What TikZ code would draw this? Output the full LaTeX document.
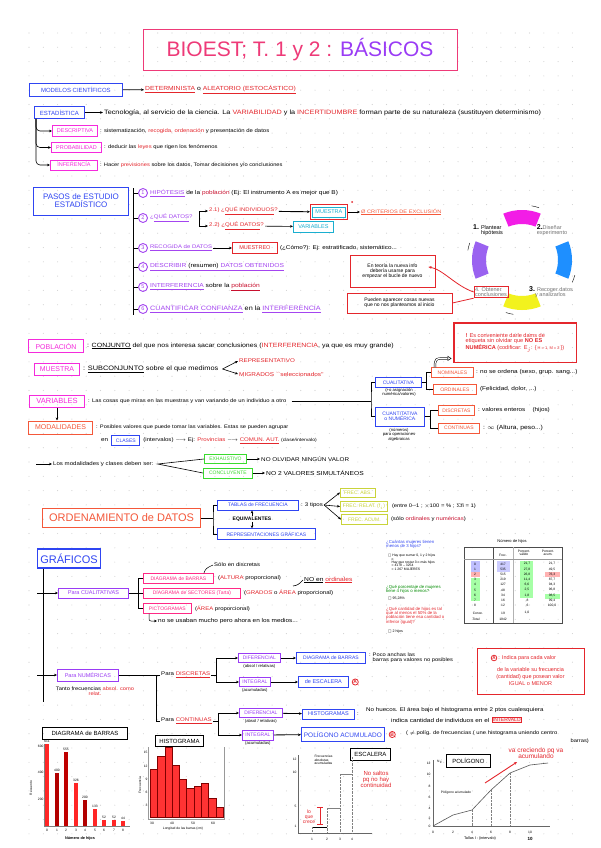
\documentclass[tikz,border=0pt]{standalone}
\usepackage{fontspec}
\setmainfont{Liberation Sans}
\newfontfamily\widefont{Liberation Sans}[FakeStretch=1.15]
\newfontfamily\symfont{DejaVu Sans}
\usetikzlibrary{positioning, calc, arrows.meta}

\definecolor{ctitle}{HTML}{EE3A78}
\definecolor{cpurple}{HTML}{9A3BF5}
\definecolor{cblue}{HTML}{2F45F2}
\definecolor{cmag}{HTML}{F52BDC}
\definecolor{cred}{HTML}{E4262C}
\definecolor{cdred}{HTML}{C8102E}
\definecolor{corange}{HTML}{F4583A}
\definecolor{ccyan}{HTML}{1AAFD0}
\definecolor{cgreen}{HTML}{3ADB2E}
\definecolor{cyel}{HTML}{C9D33A}
\definecolor{cpink}{HTML}{FF2A86}
\definecolor{cviolet}{HTML}{A445F0}
\definecolor{dotgray}{HTML}{D2D2D2}
\definecolor{cycmag}{HTML}{F21DE6}
\definecolor{cycblue}{HTML}{1E8FFF}
\definecolor{cycyel}{HTML}{F2F21E}
\definecolor{cycpur}{HTML}{9A62F0}

\newcommand{\fsz}[1]{\fontsize{#1}{#1}\selectfont}
\newcommand{\wf}[1]{\widefont\fontsize{#1}{#1}\selectfont}
\newcommand{\rd}[1]{\textcolor{cred}{#1}}
\newcommand{\ul}[1]{\underline{#1}}
\newcommand{\chk}{{\symfont □}}

\begin{document}
\begin{tikzpicture}[x=1pt, y=-1pt, >={Stealth[length=3pt, width=2.6pt]},
    box/.style={draw, line width=0.8pt, inner sep=1pt, anchor=west, font=\fsz{5.5}},
    bluebox/.style={box, draw=cblue, text=cblue},
    magbox/.style={box, draw=cmag, text=cmag, line width=1pt},
    orbox/.style={box, draw=corange, text=corange},
    cyanbox/.style={box, draw=ccyan, text=ccyan},
    greenbox/.style={box, draw=cgreen, text=cgreen},
    yelbox/.style={box, draw=cyel, text=cyel},
    pinkbox/.style={box, draw=cpink, text=cpink},
    purbox/.style={box, draw=cpurple, text=cpurple},
    blackbox/.style={box, draw=black, line width=0.9pt, font=\fsz{6}},
    txt/.style={anchor=west, inner sep=1pt, font=\wf{5}},
    small/.style={inner sep=0.5pt, font=\fsz{4.2}},
    tiny/.style={inner sep=0.3pt, font=\fsz{3.3}},
    rednote/.style={draw=cred, line width=0.9pt, text=black, align=center, font=\fsz{5}, inner sep=2pt},
    stepnum/.style={circle, draw=cviolet, text=cviolet, line width=0.9pt, inner sep=0pt, minimum size=9pt, font=\fsz{5.5}},
    markred/.style={circle, draw=cred, text=cred, line width=0.8pt, inner sep=0.4pt, font=\fsz{5}\bfseries},
    link/.style={->, line width=0.6pt},
  ]
\useasboundingbox (0,0) rectangle (600,848);
\fill[white] (0,0) rectangle (600,848);
% dotted paper
\foreach \i in {0,...,38} {
  \foreach \j in {0,...,56} {
    \fill[dotgray] (29+\i*14.3, 33+\j*14.3) circle (0.55pt);
  }
}

% title
\node[draw=ctitle, line width=0.9pt, minimum width=314, minimum height=41, inner sep=0pt, font=\fsz{21}] (title) at (300,50)
  {\textcolor{ctitle}{BIOEST; T. 1 y 2 :} \textcolor{cpurple}{BÁSICOS}};

% modelos / estadistica
\node[bluebox, minimum width=93, minimum height=13, font=\fsz{6}] (modelos) at (29,89.5) {MODELOS CIENTÍFICOS};
\node[txt, text=cred, font=\wf{5.9}] (modtipos) at (144,90) {\ul{DETERMINISTA} \textcolor{black}{o} \ul{ALEATORIO (ESTOCÁSTICO)}};
\draw[link, line width=0.8pt] (modelos) -- (modtipos);

\node[bluebox, minimum width=50, minimum height=12, font=\fsz{6}] (estad) at (34,112.5) {ESTADÍSTICA};
\node[txt, font=\wf{6.3}] (estadtxt) at (103,112.5) {Tecnología, al servicio de la ciencia. La \rd{VARIABILIDAD} y la \rd{INCERTIDUMBRE} forman parte de su naturaleza (sustituyen determinismo)};
\draw[link, line width=0.8pt] (estad) -- (estadtxt);

\node[magbox, minimum width=45, minimum height=10] (descr) at (52,131) {DESCRIPTIVA};
\node[txt, right=1pt of descr, font=\wf{5.2}] (descrtxt) {: sistematización, \rd{recogida, ordenación} y presentación de datos};
\node[magbox, minimum width=50, minimum height=9.5] (prob) at (51,147.5) {PROBABILIDAD};
\node[txt, right=1pt of prob, font=\wf{5.1}] (probtxt) {: deducir las \rd{leyes} que rigen los fenómenos};
\node[magbox, minimum width=47, minimum height=10] (infer) at (50,165) {INFERENCIA};
\node[txt, right=1pt of infer, font=\wf{5}] (infertxt) {: Hacer \rd{previsiones} sobre los datos, Tomar decisiones y/o conclusiones};
\foreach \b in {descr, prob, infer}
  \draw[link, rounded corners=4pt] ([xshift=2pt]estad.south west) |- (\b.west);

% pasos
\node[bluebox, align=center, minimum width=95, minimum height=28, font=\fsz{8}, line width=1pt] (pasos) at (33,201) {PASOS de ESTUDIO\\ESTADÍSTICO};
\coordinate (sptop) at (133,188);
\coordinate (spbot) at (133,315);
\draw[line width=0.9pt] (sptop) -- (spbot);
\foreach \n/\y in {1/193, 2/218, 3/248, 4/267, 5/287, 6/309} {
  \node[stepnum] (s\n) at (143,\y) {\n};
  \draw[line width=0.8pt] (sptop |- s\n.west) -- (s\n.west);
}
\node[txt, right=1pt of s1, font=\wf{5.6}] (h1) {\textcolor{cviolet}{\ul{HIPÓTESIS}} de la \textcolor{cdred}{población} (Ej: El instrumento A es mejor que B)};
\node[txt, right=1pt of s2, text=cviolet, font=\wf{5.3}] (h2) {¿\ul{QUÉ DATOS}?};
\coordinate (qbr) at ($(h2.east)+(5,0)$);
\node[txt, text=cred, font=\wf{5.2}] (q21) at (208,211) {2.1) ¿\ul{QUÉ INDIVIDUOS}?};
\node[txt, text=cred, font=\wf{5.3}] (q22) at (208,226) {2.2) ¿\ul{QUÉ DATOS}?};
\draw[link] (qbr) |- (q21.west);
\draw[link] (qbr) |- (q22.west);
\node[cyanbox, minimum width=33, minimum height=10] (muestra1) at (312,212) {MUESTRA};
\draw[cred, line width=0.9pt] ($(muestra1.south west)+(-2,2)$) rectangle ($(muestra1.north east)+(2,-2)$);
\draw[link, line width=0.9pt, shorten >=2pt] (q21) -- (muestra1);
\node[txt, text=corange, font=\wf{4.9}] (excl) at (360,212) {\ul{Ø CRITERIOS DE EXCLUSIÓN}};
\draw[link] ($(muestra1.east)+(2,0)$) -- (excl);
\fill[cred] (352,202) circle (1pt);
\node[cyanbox, minimum width=40, minimum height=11] (vars1) at (293,226.5) {VARIABLES};
\draw[link] (q22) -- (vars1);
\node[txt, right=1pt of s3, text=cviolet, font=\wf{5.2}] (h3) {\ul{RECOGIDA de DATOS}};
\node[box, draw=cred, text=cred, minimum width=45, minimum height=11] (muestreo) at (232,248) {MUESTREO};
\draw[link, line width=0.8pt] (h3) -- (muestreo);
\node[txt, right=1pt of muestreo, font=\wf{5.5}] (como) {(¿Cómo?): Ej: estratificado, sistemático...};
\node[txt, right=1pt of s4, text=cviolet, font=\wf{5.8}] (h4) {\ul{DESCRIBIR \textcolor{black}{(resumen)} DATOS OBTENIDOS}};
\node[txt, right=1pt of s5, text=cviolet, font=\wf{5.8}] (h5) {\ul{INTERFERENCIA} \textcolor{black}{sobre la} \textcolor{cdred}{\ul{población}}};
\node[txt, right=1pt of s6, text=cviolet, font=\wf{6.3}] (h6) {\ul{CUANTIFICAR CONFIANZA} \textcolor{black}{en la} \ul{INTERFERENCIA}};

% ciclo
\coordinate (cyc) at (522,260);
\begin{scope}[shift={(cyc)}, x=1pt, y=1pt]
  \fill[cycmag] (68:50) arc[start angle=68, end angle=112, radius=50] -- (112:36) arc[start angle=112, end angle=68, radius=36] -- cycle;
  \fill[cycblue] (-22:50) arc[start angle=-22, end angle=22, radius=50] -- (22:36) arc[start angle=22, end angle=-22, radius=36] -- cycle;
  \fill[cycyel] (248:50) arc[start angle=248, end angle=292, radius=50] -- (292:36) arc[start angle=292, end angle=248, radius=36] -- cycle;
  \fill[cycpur] (158:50) arc[start angle=158, end angle=202, radius=50] -- (202:36) arc[start angle=202, end angle=158, radius=36] -- cycle;
  \foreach \a in {76, -20, 257, 166}
    \draw[line width=0.4pt] (\a+4:55) arc[start angle=\a+4, end angle=\a-4, radius=55];
\end{scope}
\node[align=left, inner sep=0pt, font=\fsz{5.5}] (c1) at (488,230) {{\fsz{7}\bfseries 1.} Plantear\\\hspace*{8pt}hipótesis};
\node[align=left, inner sep=0pt, font=\fsz{5.5}, text=black!55] (c2) at (552,230) {{\fsz{7}\bfseries\color{black}2.}Diseñar\\experimento};
\node[align=left, inner sep=0pt, font=\fsz{5.5}, text=black!55] (c3) at (551,292) {{\fsz{7}\bfseries\color{black}3.} Recoger datos\\\hspace*{6pt}y analizarlos};
\node[draw=cred, line width=0.8pt, align=left, inner sep=1pt, font=\fsz{5.5}, text=black!55] (concl) at (491,292) {4. Obtener\\conclusiones};
\node[rednote, minimum width=85, minimum height=32] (teoria) at (392.5,271) {En teoría la nueva info\\debería usarse para\\empezar el bucle de nuevo};
\node[rednote, minimum width=105, minimum height=20] (nuevas) at (399.5,303) {Pueden aparecer cosas nuevas\\que no nos planteamos al inicio};
\draw[cred, ->, line width=0.8pt] (concl.west) .. controls +(-18,-6) and +(14,2) .. ($(teoria.east)+(-7,-4)$);
\draw[cred, line width=0.8pt] (nuevas.east) -- (concl.south west);

% poblacion / muestra
\node[magbox, minimum width=55, minimum height=13, font=\fsz{7}] (pobl) at (28,346) {POBLACIÓN};
\node[txt, right=2pt of pobl, font=\wf{6.1}] (pobltxt) {: \ul{CONJUNTO} del que nos interesa sacar conclusiones (\rd{INTERFERENCIA}, ya que es muy grande)};
\node[magbox, minimum width=45, minimum height=12, font=\fsz{7}] (muestra2) at (34,369) {MUESTRA};
\node[txt, right=2pt of muestra2, font=\wf{6.4}] (muestratxt) {: \ul{SUBCONJUNTO} sobre el que medimos};
\coordinate (mfork) at ($(muestratxt.east)+(3,0)$);
\node[txt, text=cred, font=\wf{5.4}] (repres1) at (238,361) {REPRESENTATIVO};
\node[txt, text=cred, font=\wf{5.6}] (sesgo) at (238,374) {MIGRADOS ``seleccionados''};
\draw[link] (mfork) -- (repres1.west);
\draw[link] (mfork) -- (sesgo.west);

% tipos de variables
\node[rednote, text=cred, align=left, minimum width=122, minimum height=39, font=\fsz{5.6}] (etiqueta) at (515,342.5)
  {\textbf{!} Es conveniente darle dams de\\etiqueta sin olvidar que \textbf{NO ES}\\\textbf{NUMÉRICA} (codificar: E$_j$: \{\,{\fsz{4}H = 1, M = 2}\,\})};
\draw[cred, line width=0.9pt] (etiqueta.north west) rectangle (etiqueta.south east);
\node[bluebox, minimum width=46, minimum height=9.5, font=\fsz{5}] (cuali) at (375,382.5) {CUALITATIVA};
\node[small, anchor=north, align=center] (cualinota) at (399,388) {(+o asignación\\numérica/valores)};
\node[orbox, minimum width=42, minimum height=9.5, font=\fsz{5}] (nomin) at (431,372.5) {NOMINALES};
\node[txt, right=1pt of nomin, font=\wf{5.6}] (nomintxt) {: no se ordena (sexo, grup. sang...)};
\node[orbox, minimum width=43, minimum height=9.5, font=\fsz{5}] (ordin) at (433,389.5) {ORDINALES};
\node[txt, right=2pt of ordin, font=\wf{5.6}] (ordintxt) {(Felicidad, dolor, ...)};
\coordinate (cbr) at ($(cuali.east)+(5,0)$);
\draw[line width=0.7pt] (cuali.east) -- (cbr);
\draw[line width=0.7pt] (nomin.west) -| (cbr) |- (ordin.west);
\draw[double, double distance=1.2pt, line width=0.5pt, -{Triangle[open, length=4pt, width=5pt]}]
  ($(nomin.north west)+(4,0)$) .. controls +(0,-9) .. ($(etiqueta.south west)+(-2,-4)$);
\node[bluebox, align=center, minimum width=49, minimum height=19, font=\fsz{5}] (cuanti) at (375,416.5) {CUANTITATIVA\\o NUMÉRICA};
\node[small, anchor=north, align=center] (cuantinota) at (399,428) {(números)\\para operaciones\\algebraicas};
\node[orbox, minimum width=36, minimum height=9.5, font=\fsz{5}] (discr) at (438,410.5) {DISCRETAS};
\node[txt, right=2pt of discr, font=\wf{5.5}] (discrtxt) {: valores enteros \quad (hijos)};
\node[orbox, minimum width=41, minimum height=10, font=\fsz{5}] (conti) at (438,428) {CONTINUAS};
\node[txt, right=2pt of conti, font=\wf{5.9}] (contitxt) {: $\infty$ (Altura, peso...)};
\coordinate (nbr) at ($(cuanti.east)+(6,0)$);
\draw[line width=0.7pt] (cuanti.east) -- (nbr);
\draw[line width=0.7pt] (discr.west) -| (nbr) |- (conti.west);

\node[magbox, minimum width=55, minimum height=12, font=\fsz{7.5}] (variab) at (29,401) {VARIABLES};
\node[txt, right=2pt of variab, font=\wf{5.1}] (variabtxt) {: Las cosas que miras en las muestras y van variando de un individuo a otro};
\coordinate (vbr) at (371,401);
\draw[line width=0.9pt] ($(variabtxt.east)+(4,0)$) -- (vbr);
\draw[line width=0.7pt] (cuali.west) -| (vbr) |- (cuanti.west);

% modalidades
\node[orbox, minimum width=64, minimum height=13, font=\fsz{7}, line width=1pt] (modal) at (28,427.5) {MODALIDADES};
\draw[link, line width=0.8pt] (variab.south) -- (variab.south |- modal.north);
\node[txt, right=2pt of modal, font=\wf{5}] (modaltxt) {: Posibles valores que puede tomar las variables. Estas se pueden agrupar};
\node[txt, font=\wf{5.5}] (entxt) at (100,440.5) {en};
\node[bluebox, right=2pt of entxt, minimum width=28, minimum height=9.5, font=\fsz{5}] (clases) {CLASES};
\node[txt, right=2pt of clases, font=\wf{5.3}] (clasestxt) {(intervalos) $\longrightarrow$ Ej: \rd{Provincias} $\longrightarrow$ \rd{\ul{COMUN. AUT.}} {\wf{4.4}(clase/intervalo)}};
\coordinate (debenst) at (36,464);
\node[txt, font=\wf{5.3}] (deben) at (52,464) {Los modalidades y clases deben ser:};
\draw[link, line width=0.8pt] (debenst) -- (deben);
\coordinate (dfork) at ($(deben.east)+(3,0)$);
\node[greenbox, minimum width=42, minimum height=9, font=\fsz{5}] (exhaus) at (204,459) {EXHAUSTIVO};
\node[greenbox, minimum width=49, minimum height=10, font=\fsz{5}] (conclu) at (203,473) {CONCLUYENTE};
\draw[line width=0.6pt] (exhaus.west) -- (dfork) -- (conclu.west);
\node[txt, font=\wf{5.5}] (exhaustxt) at (260,459) {NO OLVIDAR NINGÚN VALOR};
\draw[link] (exhaus) -- (exhaustxt);
\node[txt, font=\wf{5.8}] (conclutxt) at (265,473) {NO 2 VALORES SIMULTÁNEOS};
\draw[link] (conclu) -- (conclutxt);

% ordenamiento
\node[orbox, minimum width=158, minimum height=19, font=\fsz{11}, line width=1pt] (orden) at (42,518) {ORDENAMIENTO de DATOS};
\coordinate (obr) at ($(orden.east)+(12,0)$);
\node[bluebox, minimum width=81, minimum height=10, font=\fsz{5}] (tablas) at (217,505) {TABLAS de FRECUENCIA};
\node[bluebox, minimum width=98, minimum height=10.5, font=\fsz{5}] (grafrep) at (217,534) {REPRESENTACIONES GRÁFICAS};
\draw[line width=0.9pt] (orden.east) -- (obr);
\draw[line width=0.9pt] (tablas.west) -| (obr) |- (grafrep.west);
\node[txt, right=1pt of tablas, font=\wf{5.3}] (tipos) {: 3 tipos};
\node[yelbox, minimum width=35, minimum height=9, font=\fsz{5}] (fabs) at (340,492.5) {FREC. ABS.};
\node[yelbox, minimum width=47, minimum height=9.5, font=\fsz{5}] (frel) at (340,506.5) {FREC. RELAT. (f$_i$)};
\node[yelbox, minimum width=46, minimum height=9.5, font=\fsz{5}] (facum) at (341,519.5) {FREC. ACUM.};
\foreach \f in {fabs, frel, facum}
  \draw[link] (tipos.east) -- (\f.west);
\node[txt, right=3pt of frel, font=\wf{5.1}] (freltxt) {(entre 0--1 ; $\times$100 = \% ; $\Sigma$fi = 1)};
\node[txt, right=2pt of facum, font=\wf{5.2}] (facumtxt) {(sólo \textcolor{cdred}{ordinales} y \textcolor{cdred}{numéricas})};
\node[font=\fsz{5}\bfseries, inner sep=0.5pt] (equiv) at (252,519) {EQUIVALENTES};
\draw[link] (equiv.north) -- (equiv.north |- tablas.south);
\draw[link] (equiv.south) -- (equiv.south |- grafrep.north);

% graficos
\node[bluebox, minimum width=63, minimum height=19, font=\fsz{11}, line width=1.1pt] (graf) at (37,558.5) {GRÁFICOS};
\coordinate (gtop) at ($(graf.south west)+(6,0)$);
\coordinate (gbot) at (43,702);
\draw[line width=1pt] (gtop) -- (gbot);
\node[purbox, minimum width=70, minimum height=10] (pcuali) at (58,593) {Para CUALITATIVAS};
\coordinate (gc1) at (37,593);
\draw[link, line width=0.8pt] (gc1) -- (pcuali);
\coordinate (qbr2) at ($(pcuali.east)+(10,0)$);
\node[pinkbox, minimum width=70, minimum height=9.5, font=\fsz{5}] (dbarras1) at (143,578.5) {DIAGRAMA de BARRAS};
\node[pinkbox, minimum width=97, minimum height=10, font=\fsz{5}] (dsect) at (143,593) {DIAGRAMA de SECTORES (Tarta)};
\node[pinkbox, minimum width=48, minimum height=9.5, font=\fsz{5}] (picto) at (143,608.5) {PICTOGRAMAS};
\draw[line width=0.7pt] (pcuali.east) -- (dsect.west);
\draw[line width=0.7pt] (dbarras1.west) -| (qbr2) |- (picto.west);
\node[txt, right=3pt of dbarras1, font=\wf{5.3}] (dbarrastxt) {(\rd{ALTURA} proporcional)};
\node[txt, font=\wf{5.2}] (solodisc) at (213,565) {Sólo en discretas};
\draw[line width=0.5pt] ($(dbarras1.north east)+(-10,0)$) .. controls +(2,-5) .. (solodisc.west);
\node[txt, right=2pt of dsect, font=\wf{5.3}] (dsecttxt) {(\rd{GRADOS} o \rd{ÁREA} proporcional)};
\node[txt, font=\wf{5.8}] (noord) at (303,580) {\ul{NO en} \rd{\ul{ordinales}}};
\draw[line width=0.6pt] ($(noord.west)+(-10,6)$) .. controls +(5,-1) .. (noord.west);
\node[txt, right=2pt of picto, font=\wf{5.2}] (pictotxt) {(\rd{ÁREA} proporcional)};
\node[txt, font=\wf{5.6}] (medios) at (157,621) {no se usaban mucho pero ahora en los medios...};
\draw[link, line width=0.5pt, rounded corners=2pt] ($(picto.south west)+(6,0)$) |- (medios.west);

% captura: preguntas y tabla
\node[anchor=north west, align=left, text=cblue, font=\fsz{4.3}, inner sep=0pt] (preg1) at (386,540) {¿Cuántas mujeres tienen\\menos de 3 hijos?};
\node[anchor=north west, align=left, font=\fsz{3.4}, inner sep=0pt] (resp1) at (388,554) {\chk\ Hay que sumar 0, 1 y 2 hijos\\\quad o\\\quad Hay que restar 3 o más hijos\\\quad = 4178 -- 3254\\\quad = 1 267 MUJERES};
\node[anchor=north west, align=left, text=green!55!black, font=\fsz{4.3}, inner sep=0pt] (preg2) at (386,585) {¿Qué porcentaje de mujeres\\tiene 4 hijos o menos?};
\node[anchor=north west, font=\fsz{3.6}, inner sep=0pt] (resp2) at (388,597) {\chk\ 95,28\%};
\node[anchor=north west, align=left, text=cred, font=\fsz{4.3}, inner sep=0pt] (preg3) at (386,607) {¿Qué cantidad de hijos es tal\\que al menos el 50\% de la\\población tiene esa cantidad o\\inferior (igual)?};
\node[anchor=north west, font=\fsz{3.6}, inner sep=0pt] (resp3) at (388,630) {\chk\ 2 hijos};
\node[font=\fsz{4}, inner sep=0pt] (tabtit) at (512,541) {Número de hijos};
\draw[black!70, line width=0.6pt] (464,547) rectangle (562,623);
\draw[black!70, line width=0.6pt] (493,547) -- (493,623);
\draw[black!30, line width=0.3pt] (513,547) -- (513,623);
\draw[black!40, line width=0.3pt] (464,559) -- (562,559);
\fill[green!35] (520,561) rectangle (533,598);
\fill[blue!25] (471,561) rectangle (480,571.5);
\fill[blue!20] (497,561) rectangle (510,571.5);
\fill[red!30] (471,572) rectangle (480,577);
\fill[red!30] (545,572) rectangle (560,577);
\fill[green!35] (471,577.5) rectangle (480,601);
\fill[green!35] (545,594) rectangle (560,599);
\node[tiny, align=center] at (503,555) {Frec.};
\node[tiny, align=center] at (524,553) {Porcent.\\válido};
\node[tiny, align=center] at (548,553) {Porcent.\\acum.};
\foreach \r/\k/\f/\p/\a in {0/0/417/{21,7}/{21,7}, 1/1/535/{27,8}/{49,5}, 2/2/515/{26,8}/{76,3}, 3/3/219/{11,4}/{87,7}, 4/4/127/{6,6}/{94,3}, 5/5/48/{2,5}/{96,8}, 6/6/34/{1,8}/{98,5}, 7/7/16/{,8}/{99,4}, 8/8/12/{,6}/{100,0}} {
  \node[tiny] at (475,{564+\r*5.2}) {\k};
  \node[tiny] at (503,{564+\r*5.2}) {\f};
  \node[tiny] at (527,{564+\r*5.2}) {\p};
  \node[tiny] at (552,{564+\r*5.2}) {\a};
}
\node[tiny] at (478,613) {Conoc.};
\node[tiny] at (503,613) {19};
\node[tiny] at (527,613) {1,0};
\node[tiny] at (476,619) {Total};
\node[tiny] at (503,619) {1942};

% numericas
\node[purbox, minimum width=61, minimum height=12] (pnum) at (57,675) {Para NUMÉRICAS};
\coordinate (gc2) at (37,675);
\draw[link, line width=0.8pt] (gc2) -- (pnum);
\node[anchor=north, align=center, font=\wf{5}] (pnumtxt) at (95,683) {Tanto frecuencias \rd{absol. como}\\\rd{relat.}};
\coordinate (nbr2) at (156,675);
\node[txt, font=\wf{5.3}] (pdisc) at (160,675) {Para \rd{\ul{DISCRETAS}}};
\node[txt, font=\wf{5.3}] (pcont) at (160,721) {Para \rd{\ul{CONTINUAS}}};
\draw[line width=0.8pt] (pnum.east) -- (nbr2);
\draw[line width=0.8pt] (pdisc.west) -| (nbr2) |- (pcont.west);
\coordinate (dbr) at ($(pdisc.east)+(5,0)$);
\node[purbox, minimum width=42, minimum height=9.5, font=\fsz{5}] (ddif) at (238,658) {DIFERENCIAL};
\node[small, below=0.5pt of ddif] (ddifn) {(absol / relativas)};
\node[purbox, minimum width=31, minimum height=9.5, font=\fsz{5}] (dint) at (239,682) {INTEGRAL};
\node[small, below=0.5pt of dint] (dintn) {(acumuladas)};
\draw[line width=0.8pt] (pdisc.east) -- (dbr);
\draw[link, line width=0.8pt] (dbr) |- (ddif.west);
\draw[link, line width=0.8pt] (dbr) |- (dint.west);
\node[bluebox, minimum width=69, minimum height=10.5, font=\fsz{5}] (dbarras2) at (296,658) {DIAGRAMA de BARRAS};
\draw[link, line width=0.8pt] (ddif) -- (dbarras2);
\node[txt, right=2pt of dbarras2, align=left, font=\wf{5}] (pocotxt) {: Poco anchas las\\\phantom{: }barras para valores no posibles};
\node[bluebox, minimum width=50, minimum height=10.5, font=\fsz{5.5}] (escal) at (298,682) {de ESCALERA};
\draw[link, line width=0.8pt] (dint) -- (escal);
\node[markred, right=3pt of escal] (markA) {A};
\node[text=cred, font=\fsz{5}, inner sep=0pt, anchor=north west] (commaA) at (markA.south east) {,};
\coordinate (nAtl) at (477,648);
\coordinate (nAbr) at (584,694);
\draw[cred, line width=1pt] (nAtl) rectangle (nAbr);
\node[text=cred, font=\fsz{5.5}, align=center, inner sep=0pt] (notaA) at (530.5,677)
  {de la variable su frecuencia\\[1.5pt](cantidad) que posean valor\\[1.5pt]IGUAL o MENOR};
\node[markred, font=\fsz{4.5}\bfseries] (markA2) at (494,658) {A};
\node[txt, text=cred, font=\fsz{5.5}, right=0pt of markA2] (notaA1) {: Indica para cada valor};
\coordinate (cbr3) at ($(pcont.east)+(6,0)$);
\node[purbox, minimum width=43, minimum height=9.5, font=\fsz{5}] (cdif) at (239,713) {DIFERENCIAL};
\node[small, below=0.5pt of cdif] (cdifn) {(absol / relativas)};
\node[purbox, minimum width=31, minimum height=10, font=\fsz{5}] (cint) at (242,735) {INTEGRAL};
\node[small, below=0.5pt of cint] (cintn) {(acumuladas)};
\draw[line width=0.8pt] (pcont.east) -- (cbr3);
\draw[link, line width=0.8pt] (cbr3) |- (cdif.west);
\draw[link, line width=0.8pt] (cbr3) |- (cint.west);
\node[bluebox, minimum width=52, minimum height=10] (histo) at (302,714) {HISTOGRAMAS};
\draw[link, line width=0.8pt] (cdif) -- (histo);
\node[txt, right=1pt of histo] (histocol) {:};
\node[txt, font=\wf{5.4}] (histotxt) at (365,710) {No huecos. El área bajo el histograma entre 2 ptos cualesquiera};
\node[txt, font=\wf{5.6}] (histotxt2) at (390,720) {indica cantidad de individuos en el};
\node[box, draw=cred, text=cred, fill=cred!12, right=1pt of histotxt2, font=\fsz{5}] (interv) {INTERVALO};
\node[bluebox, minimum width=83, minimum height=14, font=\fsz{6.5}] (polac) at (301,734.5) {POLÍGONO ACUMULADO};
\draw[link, line width=0.8pt] (cint) -- (polac);
\node[markred, right=4pt of polac] (markB) {B};
\node[text=cred, font=\fsz{5}, inner sep=0pt, anchor=north west] (commaB) at (markB.south east) {,};
\node[txt, font=\wf{5.1}] (polactxt) at (405,733) {( $\neq$ políg. de frecuencias ( une histograma uniendo centro};
\node[txt, anchor=east, font=\wf{5}] (polactxt2) at (590,741) {barras)};

% diagrama de barras
\node[blackbox, minimum width=85, minimum height=12] (tbarras) at (42,733) {DIAGRAMA de BARRAS};
\draw[black!50, line width=0.3pt] (44,744) -- (44,826) -- (130,826);
\foreach \x/\t/\v/\c [count=\k from 0] in {47/744/611/red!85, 57/773/400/red!70!black, 66/752/555/red!75!black, 76/783/326/red!85, 85/800/200/red!70!black, 95/809/133/red!85, 104/820/52/red!85, 114/820/52/red!85, 123/821/44/red!85} {
  \fill[\c] (\x-2,826) rectangle (\x+2,\t);
  \node[tiny] at (\x,\t-3) {\v};
  \node[tiny] at (\x,830) {\k};
}
\foreach \yv/\lab in {746/600, 772/400, 799/200} \node[tiny, anchor=east] at (44,\yv) {\lab};
\node[tiny, rotate=90] (recuento) at (31,788) {Recuento};
\node[tiny, font=\fsz{3.8}\bfseries] (nhijos) at (80,838) {Número de hijos};

% histograma
\node[blackbox, minimum width=48, minimum height=11] (thisto) at (155,741) {HISTOGRAMA};
\draw[black!40, line width=0.3pt] (148,747) -- (148,819) -- (224,819) -- (224,747);
\foreach \i/\t in {0/769, 1/756, 2/747, 3/765, 4/779, 5/788, 6/786, 7/783, 8/798, 9/807}
  \fill[red!80, draw=red!50!black, line width=0.2pt] ({150+\i*7.3},817) rectangle ++(7.3,{\t-817});
\foreach \yv/\lab in {752/15, 766/12, 779/9, 792/6, 805/3} \node[tiny, anchor=east] at (148,\yv) {\lab};
\foreach \xv/\lab in {152/30, 172/40, 193/50, 213/60} \node[tiny] at (\xv,823) {\lab};
\node[tiny] (histlbl) at (183,829) {Longitud de las barras (cm)};
\node[tiny, rotate=90] (histy) at (140,785) {Frecuencia};

% escalera
\node[blackbox, minimum width=40, minimum height=12] (tescal) at (350,754) {ESCALERA};
\draw[black!60, line width=0.3pt] (298,755) -- (298,833) -- (372,833);
\draw[line width=0.6pt] (312,827) -- (327,827);
\draw[gray, line width=0.6pt] (327,808) -- (340,808);
\draw[gray, line width=0.6pt] (340,774) -- (352,774);
\foreach \xv/\yv in {312/827, 327/808, 340/774, 352/757} \draw[gray, densely dotted, line width=0.4pt] (\xv,\yv) -- (\xv,833);
\foreach \yv/\lab in {759/12, 772/10, 806/5, 826/1} \node[tiny, anchor=east] at (297,\yv) {\lab};
\foreach \xv/\lab in {312/1, 327/2, 340/3, 352/4} \node[tiny] at (\xv,839) {\lab};
\node[tiny, align=left, anchor=north west] (facumlbl) at (314,755) {Frecuencias\\absolutas\\acumuladas};
\node[text=cred, font=\fsz{6}, align=center, inner sep=0pt] (nosaltos) at (376,779) {No saltos\\pq no hay\\continuidad};
\node[text=cred, font=\fsz{5}, align=center, inner sep=0pt] (crece) at (309,817) {lo\\que\\crece};
\draw[cred, line width=0.8pt, |-|] (320,807) -- (320,825);

% poligono
\node[blackbox, minimum width=44, minimum height=13] (tpolig) at (446,760.5) {POLÍGONO};
\draw[black!60, line width=0.3pt] (433,760) -- (433,826) -- (550,826);
\draw[gray!70!black, line width=0.6pt] (433,826) -- (453,815) -- (472,810) -- (491,790) -- (510,773) -- (530,765) -- (548,763);
\foreach \xv/\yv in {472/810, 491/790, 510/773} \draw[gray, densely dotted, line width=0.4pt] (\xv,\yv) -- (\xv,826);
\foreach \yv/\lab in {763/12, 774/10, 786/8, 797/6, 808/4, 818/2, 826/0} \node[tiny, anchor=east] at (431,\yv) {\lab};
\foreach \xv/\lab in {433/0, 453/2, 472/4, 491/6, 510/8, 530/10} \node[tiny] at (\xv,832) {\lab};
\node[tiny] (ni) at (440,762) {N$_i$};
\node[tiny] (poliglbl) at (456,793) {Polígono acumulado};
\node[tiny, font=\fsz{3.8}] (tallas) at (480,839) {Tallas I : (intervalo)};
\node[font=\fsz{4.5}\bfseries, inner sep=0pt] (diez) at (530,839) {10};
\node[text=cred, font=\fsz{6.5}, align=center, inner sep=0pt] (crecetxt) at (536,753) {va creciendo pq va\\acumulando};
\coordinate (crA) at (485,783);
\coordinate (crB) at (517,762);
\draw[cred, ->, line width=0.9pt] (crA) -- (crB);
\end{tikzpicture}
\end{document}
